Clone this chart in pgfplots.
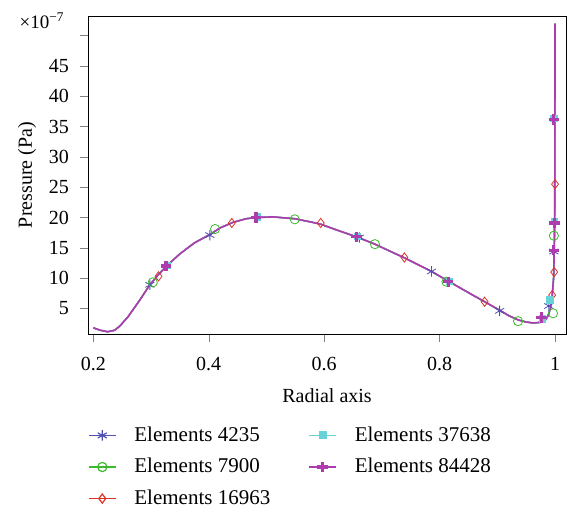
\documentclass[border=0pt]{standalone}
\usepackage{fontspec}
\setmainfont{Liberation Serif}
\usepackage{pgfplots}
\pgfplotsset{compat=1.18}
\usepackage{pgfplotstable}

\definecolor{cA}{RGB}{80,80,180}
\definecolor{cB}{RGB}{60,185,45}
\definecolor{cC}{RGB}{220,50,40}
\definecolor{cD}{RGB}{105,210,215}
\definecolor{cE}{RGB}{175,60,175}

% pressure profile (units of 1e-7 Pa)
\pgfplotstableread{
x y
0.200 1.8
0.212 1.4
0.225 1.15
0.237 1.4
0.246 2.1
0.260 3.6
0.280 6.3
0.298 8.9
0.313 10.6
0.327 12.0
0.350 14.0
0.375 15.8
0.402 17.2
0.420 18.3
0.442 19.2
0.465 19.8
0.483 20.0
0.511 20.1
0.549 19.8
0.575 19.3
0.594 18.9
0.620 18.0
0.659 16.7
0.688 15.6
0.715 14.4
0.740 13.3
0.786 11.1
0.815 9.5
0.850 7.6
0.878 6.1
0.904 4.7
0.920 3.8
0.936 3.1
0.950 2.75
0.962 2.6
0.975 2.7
0.982 2.9
0.988 3.8
0.992 5.0
0.995 7.0
0.9975 10.0
0.9988 15.0
0.9995 22.0
0.9998 35.0
1.000 52.0
}\curve

\begin{document}
\begin{tikzpicture}
\begin{axis}[
    scale only axis,
    width=239pt, height=159pt,
    xmin=0.1908, xmax=1.019,
    ymin=0.78, ymax=53.25,
    clip=false,
    xtick={0.2,0.4,0.6,0.8,1},
    ytick={5,10,...,50},
    yticklabels={5,10,15,20,25,30,35,40,45,{}},
    tick align=outside,
    xtick pos=bottom, ytick pos=left,
    major tick length=4pt,
    /pgf/number format/assume math mode=true,
    tick label style={font=\fontsize{10}{12}\selectfont},
    xticklabel style={yshift=-4pt},
    yticklabel style={xshift=-2pt},
    label style={font=\fontsize{10}{12}\selectfont},
    xlabel={Radial axis},
    xlabel style={yshift=-2pt},
    ylabel={Pressure (Pa)},
    ylabel shift=-0.5pt,
    legend style={draw=none, at={(-0.013,-0.265)}, anchor=north west,
        font=\fontsize{10.5}{12}\selectfont, row sep=3pt,
        /tikz/every odd column/.append style={column sep=7pt},
        /tikz/every even column/.append style={column sep=17pt}},
    legend columns=3, transpose legend,
    legend cell align=left,
    legend image code/.code={\draw[mark repeat=2,mark phase=2,#1]
        plot coordinates {(0pt,0pt)(6.75pt,0pt)(13.5pt,0pt)};},
]
% lines
\addplot[cA, line width=0.6pt, forget plot] table {\curve};
\addplot[cB, line width=0.6pt, forget plot] table {\curve};
\addplot[cC, line width=0.6pt, forget plot] table {\curve};
\addplot[cD, line width=0.8pt, forget plot] table {\curve};
\addplot[cE, line width=0.8pt, forget plot] table {\curve};
% markers
\addplot[only marks, cA, mark=asterisk, mark size=2.6pt, forget plot] coordinates {
    (0.298,8.9) (0.402,17.1) (0.661,16.7) (0.786,11.1) (0.904,4.6) (0.989,5.4) (0.998,14.4)};
\addplot[only marks, cB, mark=o, mark size=2.3pt, forget plot] coordinates {
    (0.303,9.3) (0.411,18.1) (0.549,19.7) (0.688,15.6) (0.812,9.4) (0.936,2.9) (0.9965,4.2) (0.998,17.0)};
\addplot[only marks, cC, mark=diamond, mark size=2.3pt, forget plot] coordinates {
    (0.313,10.3) (0.440,19.1) (0.594,19.1) (0.739,13.4) (0.878,6.1) (0.995,7.2) (0.9985,11.0) (1.0,25.5)};
\addplot[only marks, cD, mark=square*, mark size=1.6pt, forget plot] coordinates {
    (0.328,12.1) (0.484,20.1) (0.658,16.9) (0.817,9.5) (0.978,3.3) (0.991,6.4) (0.999,19.4) (0.998,36.4)};
\addplot[only marks, cE, mark=+, mark size=2.6pt, line width=1.6pt, forget plot] coordinates {
    (0.326,12.0) (0.482,20.0) (0.656,16.8) (0.815,9.4) (0.976,3.5) (0.998,14.6) (0.999,19.1) (0.998,36.2)};
% legend
\addlegendimage{cA, line width=0.6pt, mark=asterisk, mark size=2.6pt}
\addlegendentry{Elements 4235}
\addlegendimage{cB, line width=0.6pt, mark=o, mark size=2.3pt}
\addlegendentry{Elements 7900}
\addlegendimage{cC, line width=0.6pt, mark=diamond, mark size=2.3pt}
\addlegendentry{Elements 16963}
\addlegendimage{cD, line width=0.8pt, mark=square*, mark size=1.6pt}
\addlegendentry{Elements 37638}
\addlegendimage{cE, line width=0.8pt, mark=+, mark size=2.6pt, mark options={line width=1.6pt}}
\addlegendentry{Elements 84428}
\node[anchor=base east, font=\fontsize{9.5}{11}\selectfont, inner sep=0pt] at (rel axis cs:0,1) [xshift=-11.5pt, yshift=-6.5pt] {×10\textsuperscript{−7}};
% page margins as in the original figure
\path (rel axis cs:0,1) ++(-44pt,8pt);
\path (rel axis cs:1,0) ++(0.5pt,-86.5pt);
\end{axis}
\end{tikzpicture}
\end{document}
